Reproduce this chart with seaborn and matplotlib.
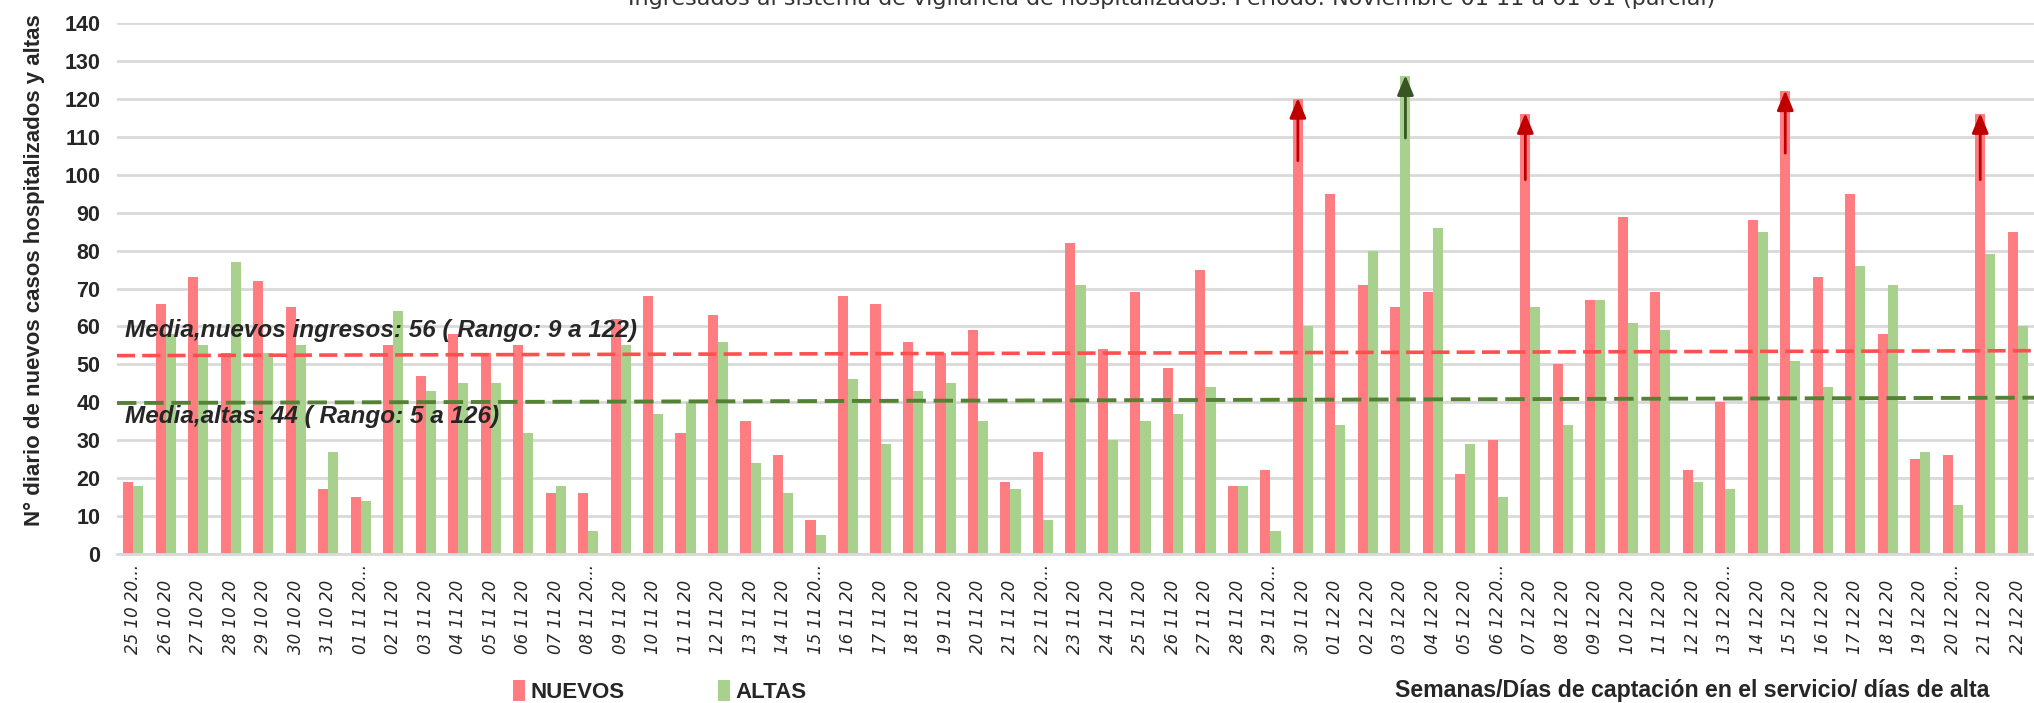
import numpy as np
import pandas as pd
import seaborn as sns
import matplotlib.pyplot as plt
from matplotlib.transforms import blended_transform_factory

# categorias (dias de captacion), tal como aparecen en el eje
fechas = ["25 10 20...", "26 10 20", "27 10 20", "28 10 20", "29 10 20", "30 10 20", "31 10 20",
          "01 11 20...", "02 11 20", "03 11 20", "04 11 20", "05 11 20", "06 11 20", "07 11 20",
          "08 11 20...", "09 11 20", "10 11 20", "11 11 20", "12 11 20", "13 11 20", "14 11 20",
          "15 11 20...", "16 11 20", "17 11 20", "18 11 20", "19 11 20", "20 11 20", "21 11 20",
          "22 11 20...", "23 11 20", "24 11 20", "25 11 20", "26 11 20", "27 11 20", "28 11 20",
          "29 11 20...", "30 11 20", "01 12 20", "02 12 20", "03 12 20", "04 12 20", "05 12 20",
          "06 12 20...", "07 12 20", "08 12 20", "09 12 20", "10 12 20", "11 12 20", "12 12 20",
          "13 12 20...", "14 12 20", "15 12 20", "16 12 20", "17 12 20", "18 12 20", "19 12 20",
          "20 12 20...", "21 12 20", "22 12 20"]

nuevos = [19, 66, 73, 53, 72, 65, 17,
          15, 55, 47, 58, 53, 55, 16,
          16, 62, 68, 32, 63, 35, 26,
          9, 68, 66, 56, 53, 59, 19,
          27, 82, 54, 69, 49, 75, 18,
          22, 120, 95, 71, 65, 69, 21,
          30, 116, 50, 67, 89, 69, 22,
          40, 88, 122, 73, 95, 58, 25,
          26, 116, 85]

altas = [18, 58, 55, 77, 53, 55, 27,
         14, 64, 43, 45, 45, 32, 18,
         6, 55, 37, 40, 56, 24, 16,
         5, 46, 29, 43, 45, 35, 17,
         9, 71, 30, 35, 37, 44, 18,
         6, 60, 34, 80, 126, 86, 29,
         15, 65, 34, 67, 61, 59, 19,
         17, 85, 51, 44, 76, 71, 27,
         13, 79, 60]

# lineas de media (valor al inicio y al final del eje)
media_nuevos = [52.3, 53.6]
media_altas = [39.8, 41.2]

# flechas de maximos: (fecha, serie, desde, hasta)
flechas = [("30 11 20", "NUEVOS", 103, 121),
           ("03 12 20", "ALTAS", 109, 127),
           ("07 12 20", "NUEVOS", 98, 117),
           ("15 12 20", "NUEVOS", 105, 123),
           ("21 12 20", "NUEVOS", 98, 117)]

titulo = "Ingresados al sistema de vigilancia de hospitalizados. Periodo: Noviembre 01 11 a 01 01 (parcial)"

rojo, verde = "#FF7C80", "#A9D18E"

df = pd.DataFrame({
    "fecha": fechas * 2,
    "tipo": ["NUEVOS"] * len(fechas) + ["ALTAS"] * len(fechas),
    "valor": nuevos + altas,
})

sns.set_style("white")
plt.rcParams["font.family"] = ["DejaVu Sans"]

fig = plt.figure(figsize=(20.34, 7.03), dpi=100)
ax = fig.add_axes([0.0575, 0.2122, 0.9425, 0.7547])

sns.barplot(data=df, x="fecha", y="valor", hue="tipo", order=fechas,
            palette={"NUEVOS": rojo, "ALTAS": verde}, saturation=1,
            width=0.62, linewidth=0, ax=ax, legend=True)

ax.set_ylim(0, 140)
ax.set_xlim(-0.5, 58.02)
ax.set_yticks(range(0, 141, 10))
ax.yaxis.grid(True, color="#D9D9D9", lw=2)
ax.set_axisbelow(True)
for s in ["left", "right", "top"]:
    ax.spines[s].set_visible(False)
ax.spines["bottom"].set_color("#D9D9D9")
ax.spines["bottom"].set_linewidth(2)

# separadores entre categorias
ax.set_xticks(np.arange(-0.5, len(fechas), 1), minor=True)
ax.tick_params(axis="x", which="minor", length=7, color="#D9D9D9", width=1.5)
ax.tick_params(axis="x", which="major", length=0, pad=72)
ax.tick_params(axis="y", length=0, pad=12)
ax.set_xlabel("")

for lbl in ax.get_yticklabels():
    lbl.set_fontfamily(["Liberation Sans", "DejaVu Sans"])
    lbl.set_fontweight("bold")
    lbl.set_fontsize(15.5)
for lbl in ax.get_xticklabels():
    lbl.set_rotation(90)
    lbl.set_va("bottom")
    lbl.set_fontsize(12)
    lbl.set_fontstyle("italic")

ax.set_ylabel("N° diario de nuevos casos hospitalizados y altas",
              fontsize=16, fontweight="bold", family=["Liberation Sans", "DejaVu Sans"])
ax.yaxis.set_label_coords(-0.043, 0.535)
ax.yaxis.label.set_va("center")

# lineas de media
xl = ax.get_xlim()
ax.plot(xl, media_nuevos, color="#FF4F4F", lw=2.6, ls=(0, (5, 2)), zorder=5)
ax.plot(xl, media_altas, color="#548235", lw=2.8, ls=(0, (5, 2)), zorder=5)

tr = blended_transform_factory(ax.transAxes, ax.transData)
fuente_media = dict(fontsize=17.5, fontweight="bold", fontstyle="italic",
                    family=["Liberation Sans", "DejaVu Sans"], transform=tr, zorder=6)
ax.text(0.004, 57.3, "Media,nuevos ingresos: 56 ( Rango: 9 a 122)", **fuente_media)
ax.text(0.004, 34.5, "Media,altas: 44 ( Rango: 5 a 126)", **fuente_media)

# flechas sobre los maximos
series = {"NUEVOS": 0, "ALTAS": 1}
for fecha, serie, y0, y1 in flechas:
    barra = ax.containers[series[serie]][fechas.index(fecha)]
    xc = barra.get_x() + barra.get_width() / 2
    col = "#C00000" if serie == "NUEVOS" else "#375623"
    ax.annotate("", xy=(xc, y1), xytext=(xc, y0),
                arrowprops=dict(arrowstyle="-|>,head_length=0.6,head_width=0.25",
                                color=col, lw=2, mutation_scale=20), zorder=7)

# leyenda
handles, labels = ax.get_legend_handles_labels()
ax.legend(handles, labels, loc="lower left", bbox_to_anchor=(0.252, 0.0),
          bbox_transform=fig.transFigure, ncol=2, frameon=False,
          prop={"weight": "bold", "size": 16, "family": ["Liberation Sans", "DejaVu Sans"]},
          handlelength=0.55, handleheight=1.1, handletextpad=0.25,
          columnspacing=4.2, borderpad=0, borderaxespad=0)

fig.text(0.832, 0.0085, "Semanas/Días de captación en el servicio/ días de alta",
         ha="center", va="baseline", fontsize=16.7, fontweight="bold",
         family=["Liberation Sans", "DejaVu Sans"])
fig.text(0.576, 0.993, titulo, ha="center", va="baseline", fontsize=16, color="#333333")

fig.savefig("out.png", dpi=100)
